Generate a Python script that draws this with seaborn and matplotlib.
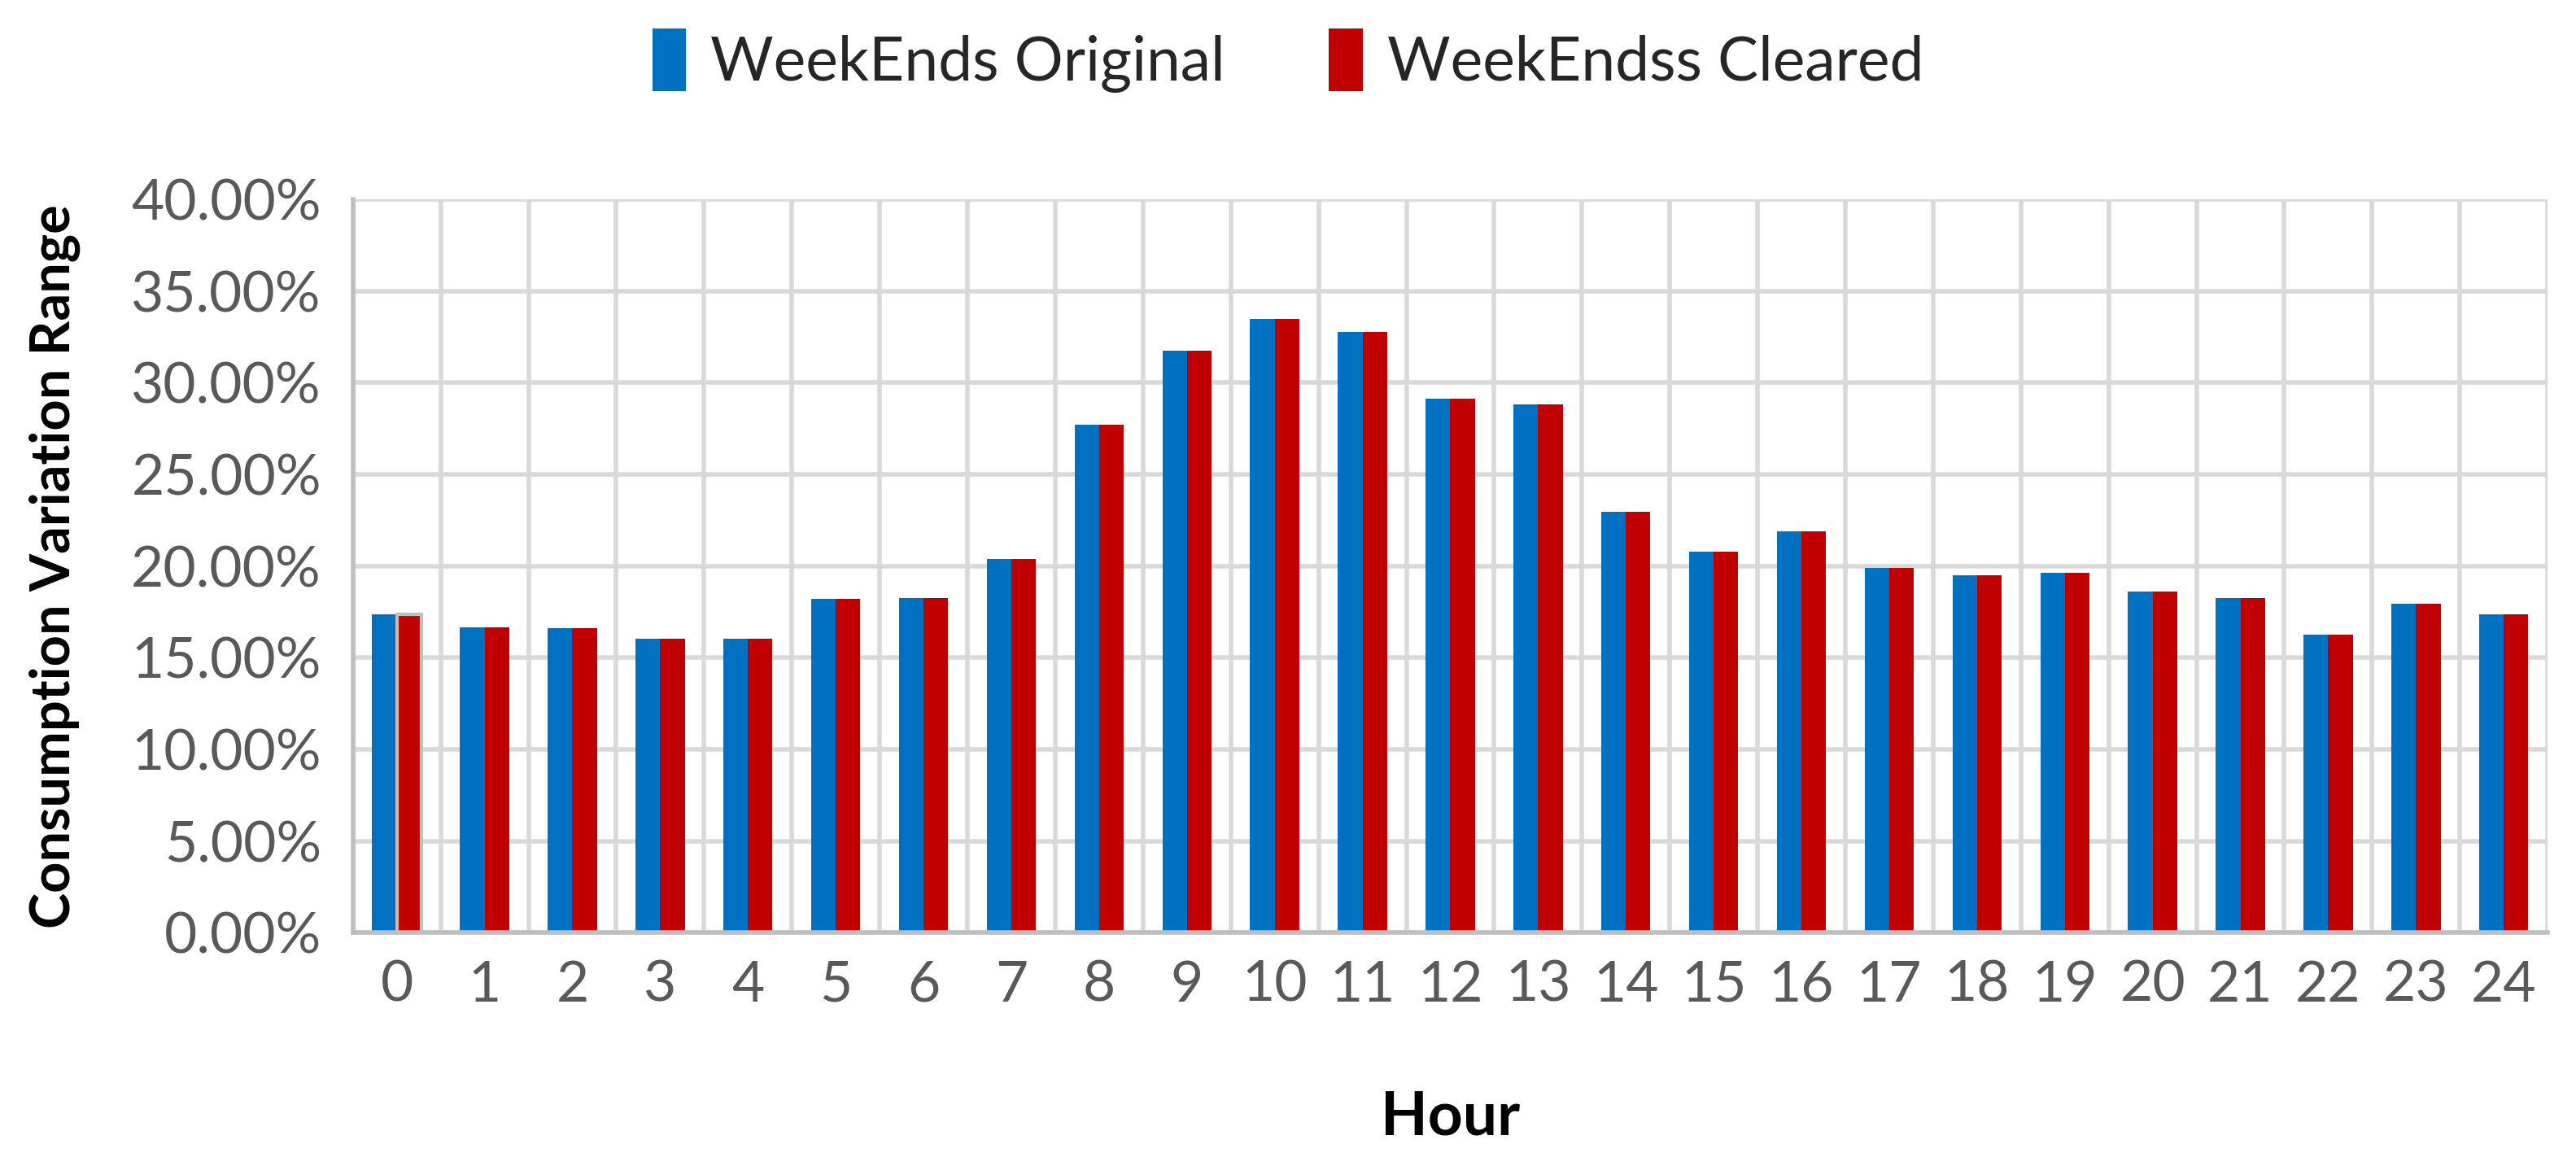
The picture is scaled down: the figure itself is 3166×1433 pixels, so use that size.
import matplotlib
matplotlib.use('Agg')
import matplotlib.pyplot as plt
import seaborn as sns
import pandas as pd
import numpy as np
from matplotlib.ticker import FuncFormatter, MultipleLocator

# Chart values (percent).
hours = list(range(25))
weekends_original = [17.36, 16.67, 16.61, 16.05, 16.02, 18.20, 18.25, 20.37, 27.70,
                     31.75, 33.47, 32.77, 29.12, 28.82, 22.97, 20.80, 21.90, 19.89,
                     19.51, 19.62, 18.60, 18.25, 16.24, 17.93, 17.36]
weekends_cleared = [17.36, 16.67, 16.61, 16.05, 16.02, 18.20, 18.25, 20.37, 27.70,
                    31.75, 33.47, 32.77, 29.12, 28.82, 22.97, 20.80, 21.90, 19.89,
                    19.51, 19.62, 18.60, 18.25, 16.24, 17.93, 17.36]
series_names = ['WeekEnds Original', 'WeekEndss Cleared']
y_ticks = np.arange(0, 40.01, 5)

BLUE = '#0070C0'
RED = '#C00000'
GRID = '#D9D9D9'
TICK_COLOR = '#595959'

df = pd.DataFrame({
    'Hour': hours * 2,
    'value': weekends_original + weekends_cleared,
    'series': [series_names[0]] * len(hours) + [series_names[1]] * len(hours),
})

sns.set_theme(style='white')
plt.rcParams['font.family'] = ['Lato', 'DejaVu Sans']

fig, ax = plt.subplots(figsize=(15.83, 7.165), dpi=200)
fig.subplots_adjust(left=0.137, right=0.989, top=0.829, bottom=0.2)

sns.barplot(data=df, x='Hour', y='value', hue='series', ax=ax,
            palette=[BLUE, RED], width=0.56, saturation=1, linewidth=0, legend=True)

# outline on the first red bar, as in the source image
red_bars = ax.containers[1]
red_bars[0].set_edgecolor('#BFBFBF')
red_bars[0].set_linewidth(1.5)

ax.set_ylim(0, 40)
ax.set_xlim(-0.5, 24.5)
ax.set_yticks(y_ticks)
ax.yaxis.set_major_formatter(FuncFormatter(lambda v, p: f'{v:.2f}%'))
ax.set_xticks(hours)
ax.set_xticklabels([str(h) for h in hours])
ax.xaxis.set_minor_locator(MultipleLocator(1, offset=0.5))

ax.grid(True, axis='y', which='major', color=GRID, linewidth=2.0)
ax.grid(True, axis='x', which='minor', color=GRID, linewidth=2.0)
ax.grid(False, axis='x', which='major')
ax.set_axisbelow(True)

for side in ['top', 'right']:
    ax.spines[side].set_visible(False)
for side in ['left', 'bottom']:
    ax.spines[side].set_color('#BFBFBF')
    ax.spines[side].set_linewidth(2.0)

ax.tick_params(axis='both', which='both', length=0, labelsize=25, labelcolor=TICK_COLOR)
ax.tick_params(axis='x', pad=12)
ax.tick_params(axis='y', pad=14)

ax.set_xlabel('Hour', fontsize=27, fontweight='bold', color='black')
ax.set_ylabel('Consumption Variation Range', fontsize=24, fontweight='bold', color='black')
ax.xaxis.set_label_coords(0.5, -0.213)
ax.yaxis.set_label_coords(-0.124, 0.5)

ax.legend(loc='center', bbox_to_anchor=(0.5, 0.948), bbox_transform=fig.transFigure,
          ncol=2, frameon=False, fontsize=27, handlelength=0.55, handleheight=1.2,
          columnspacing=1.7, handletextpad=0.4)

fig.savefig('out.png', dpi=200)
